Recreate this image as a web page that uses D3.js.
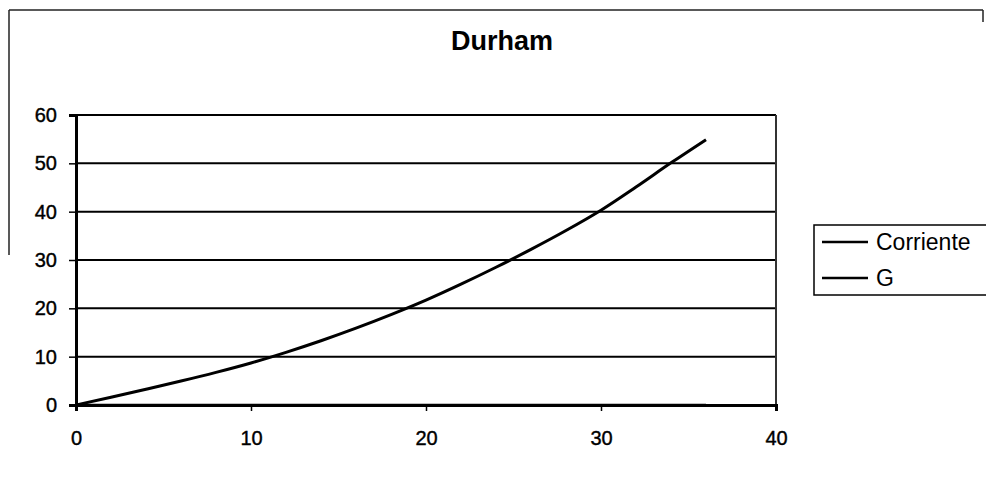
<!DOCTYPE html>
<html><head><meta charset="utf-8">
<script src="https://cdn.jsdelivr.net/npm/d3@7"></script>
<style>body{margin:0;background:#fff}svg{display:block}</style>
</head><body>
<svg id="c" width="986" height="477"></svg>
<script>
const title = "Durham";
const xValues = [0,2,4,6,8,10,12,14,16,18,20,22,24,26,28,30,32,34,36];
const corriente = [0,1.6,3.25,4.95,6.75,8.7,10.9,13.3,15.9,18.7,21.7,25.0,28.5,32.2,36.1,40.3,45.1,50.1,54.9];
const gValues = [0,0,0,0,0,0,0,0,0,0,0,0,0,0,0,0,0,0,0];
const seriesNames = ["Corriente","G"];
const xTicks = [0,10,20,30,40];
const yTicks = [0,10,20,30,40,50,60];

const svg = d3.select("#c");
const font = "'Liberation Sans', Arial, sans-serif";
const x = d3.scaleLinear().domain([0,40]).range([76,776]);
const y = d3.scaleLinear().domain([0,60]).range([405,115]);

// outer chart border (partial, as scanned)
svg.append("line").attr("x1",9).attr("x2",983).attr("y1",10).attr("y2",10).attr("stroke","#222").attr("stroke-width",1.5);
svg.append("line").attr("x1",9).attr("x2",9).attr("y1",10).attr("y2",255).attr("stroke","#222").attr("stroke-width",1.5);
svg.append("line").attr("x1",983).attr("x2",983).attr("y1",10).attr("y2",22).attr("stroke","#222").attr("stroke-width",1.5);

svg.append("text").attr("x",502).attr("y",50).attr("text-anchor","middle")
  .attr("font-family",font).attr("font-weight","bold").attr("font-size",27).text(title);

// gridlines
svg.append("g").selectAll("line").data(yTicks.filter(d=>d>0)).join("line")
  .attr("x1",x(0)).attr("x2",x(40)).attr("y1",d=>y(d)).attr("y2",d=>y(d))
  .attr("stroke","#000").attr("stroke-width",2);

// plot border right
svg.append("line").attr("x1",x(40)).attr("x2",x(40)).attr("y1",y(60)).attr("y2",y(0)).attr("stroke","#333").attr("stroke-width",2);

// y axis
const yAxis = svg.append("g").attr("transform",`translate(${x(0)},0)`)
  .call(d3.axisLeft(y).tickValues(yTicks).tickSize(7).tickPadding(12));
yAxis.select(".domain").attr("stroke","#000").attr("stroke-width",3);
yAxis.selectAll(".tick line").attr("stroke","#000").attr("stroke-width",1.5);
yAxis.selectAll("text").attr("font-family",font).attr("font-size",20).attr("fill","#000")
  .attr("stroke","#000").attr("stroke-width",0.4);

// x axis
const xAxis = svg.append("g").attr("transform",`translate(0,${y(0)})`)
  .call(d3.axisBottom(x).tickValues(xTicks).tickSize(6).tickPadding(20));
xAxis.select(".domain").attr("stroke","#000").attr("stroke-width",3);
xAxis.selectAll(".tick line").attr("stroke","#000").attr("stroke-width",1.5);
xAxis.selectAll("text").attr("font-family",font).attr("font-size",20).attr("fill","#000")
  .attr("stroke","#000").attr("stroke-width",0.4);

const line = d3.line().x((d,i)=>x(xValues[i])).y(d=>y(d)).curve(d3.curveMonotoneX);
svg.append("path").datum(gValues).attr("d",line).attr("fill","none").attr("stroke","#000").attr("stroke-width",2.5);
svg.append("path").datum(corriente).attr("d",line).attr("fill","none").attr("stroke","#000").attr("stroke-width",3);

// legend
const lg = svg.append("g");
lg.append("rect").attr("x",814).attr("y",225).attr("width",180).attr("height",70)
  .attr("fill","#fff").attr("stroke","#000").attr("stroke-width",1.5);
seriesNames.forEach((n,i)=>{
  const yy = 242 + i*36;
  lg.append("line").attr("x1",822).attr("x2",868).attr("y1",yy).attr("y2",yy).attr("stroke","#000").attr("stroke-width",2.5);
  lg.append("text").attr("x",876).attr("y",yy+8).attr("font-family",font).attr("font-size",23).text(n);
});
</script>
</body></html>
